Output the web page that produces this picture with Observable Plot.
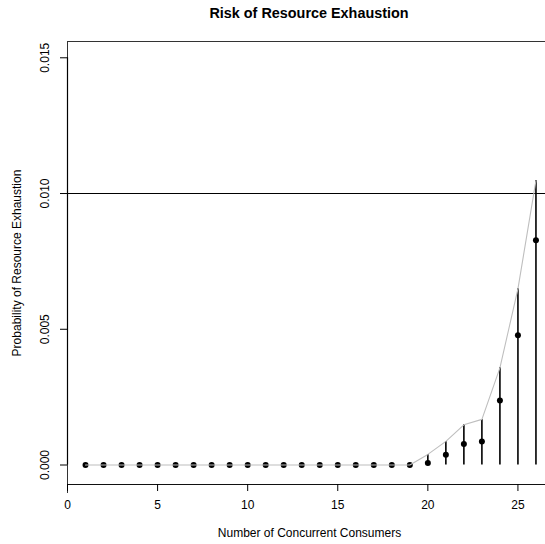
<!DOCTYPE html>
<html>
<head>
<meta charset="utf-8">
<script src="https://cdn.jsdelivr.net/npm/d3@7"></script>
<script src="https://cdn.jsdelivr.net/npm/@observablehq/plot@0.6"></script>
<style>
  html, body { margin: 0; padding: 0; background: #fff; overflow: hidden; }
  body { width: 545px; height: 544px; position: relative; font-family: "Liberation Sans", Arial, sans-serif; }
  #title { position: absolute; left: 159px; top: 0; width: 300px; height: 28px; line-height: 27px; text-align: center; font-weight: bold; font-size: 14.4px; color: #000; }
  #chart { position: absolute; left: 0; top: 28px; }
</style>
</head>
<body>
<div id="title">Risk of Resource Exhaustion</div>
<div id="chart"></div>
<script>
const consumers   = [1, 2, 3, 4, 5, 6, 7, 8, 9, 10, 11, 12, 13, 14, 15, 16, 17, 18, 19, 20, 21, 22, 23, 24, 25, 26];
const probability = [0, 0, 0, 0, 0, 0, 0, 0, 0, 0, 0, 0, 0, 0, 0, 0, 0, 0, 0, 0.00007, 0.00038, 0.00077, 0.00087, 0.00238, 0.00478, 0.00828];
const upper       = [0, 0, 0, 0, 0, 0, 0, 0, 0, 0, 0, 0, 0, 0, 0, 0, 0, 0, 0, 0.00039, 0.00087, 0.00148, 0.00168, 0.00358, 0.00649, 0.01048];
const lower       = [0, 0, 0, 0, 0, 0, 0, 0, 0, 0, 0, 0, 0, 0, 0, 0, 0, 0, 0, 0, 0, 0, 0, 0, 0, 0];
const threshold = 0.010;
const xTicks = [0, 5, 10, 15, 20, 25];
const yTicks = [0, 0.005, 0.010, 0.015];
const yTickLabels = ["0.000", "0.005", "0.010", "0.015"];
const xDomain = [0, 26.53];
const yDomain = [-0.000718, 0.0156];
const xTitle = "Number of Concurrent Consumers";
const yTitle = "Probability of Resource Exhaustion";

const data = consumers.map((c, i) => ({x: c, p: probability[i], lo: lower[i], hi: upper[i]}));
const yTickData = yTicks.map((v, i) => ({v, label: yTickLabels[i]}));

const font = "Liberation Sans, Arial, sans-serif";

const chart = Plot.plot({
  width: 545,
  height: 516,
  marginTop: 13,
  marginBottom: 60,
  marginLeft: 67,
  marginRight: 0,
  style: {fontFamily: font, fontSize: "12px", color: "#000", background: "#fff"},
  x: {domain: xDomain},
  y: {domain: yDomain},
  marks: [
    // box lines (left, top, bottom)
    Plot.ruleX([xDomain[0]], {stroke: "#333", strokeWidth: 1, insetBottom: -9}),
    Plot.ruleY([yDomain[1]], {stroke: "#333", strokeWidth: 1}),
    Plot.ruleY([yDomain[0]], {stroke: "#111", strokeWidth: 1}),
    // axes ticks
    Plot.axisX({ticks: xTicks, tickSize: 7, tickFormat: () => "", label: null, stroke: "#000"}),
    Plot.axisY({ticks: yTicks, tickSize: 7, tickFormat: () => "", label: null, stroke: "#000"}),
    Plot.ruleX([xDomain[0]], {y1: yTicks[0], y2: yTicks[yTicks.length - 1], stroke: "#000", strokeWidth: 1.2}),
    // tick labels
    Plot.text(xTicks, {x: d => d, frameAnchor: "bottom", dy: 21, lineAnchor: "middle", text: d => String(d), fontSize: 12, fill: "#000"}),
    Plot.text(yTickData, {y: "v", text: "label", frameAnchor: "left", dx: -22, rotate: -90, textAnchor: "middle", lineAnchor: "middle", fontSize: 12, fill: "#000"}),
    // axis titles
    Plot.text([xTitle], {frameAnchor: "bottom", dy: 49, dx: 3, lineAnchor: "middle", fontSize: 12, fill: "#000"}),
    Plot.text([yTitle], {frameAnchor: "left", dx: -50, rotate: -90, textAnchor: "middle", lineAnchor: "middle", fontSize: 12, fill: "#000"}),
    // threshold
    Plot.ruleY([threshold], {stroke: "#000", strokeWidth: 1.1}),
    // error bars
    Plot.ruleX(data, {x: "x", y1: "lo", y2: "hi", stroke: "#000", strokeWidth: 1.6}),
    // points
    Plot.dot(data, {x: "x", y: "p", r: 3, fill: "#000", stroke: null}),
    // upper bound line
    Plot.line(data, {x: "x", y: "hi", stroke: "#bebebe", strokeWidth: 1.1})
  ]
});
document.getElementById("chart").appendChild(chart);
</script>
</body>
</html>
